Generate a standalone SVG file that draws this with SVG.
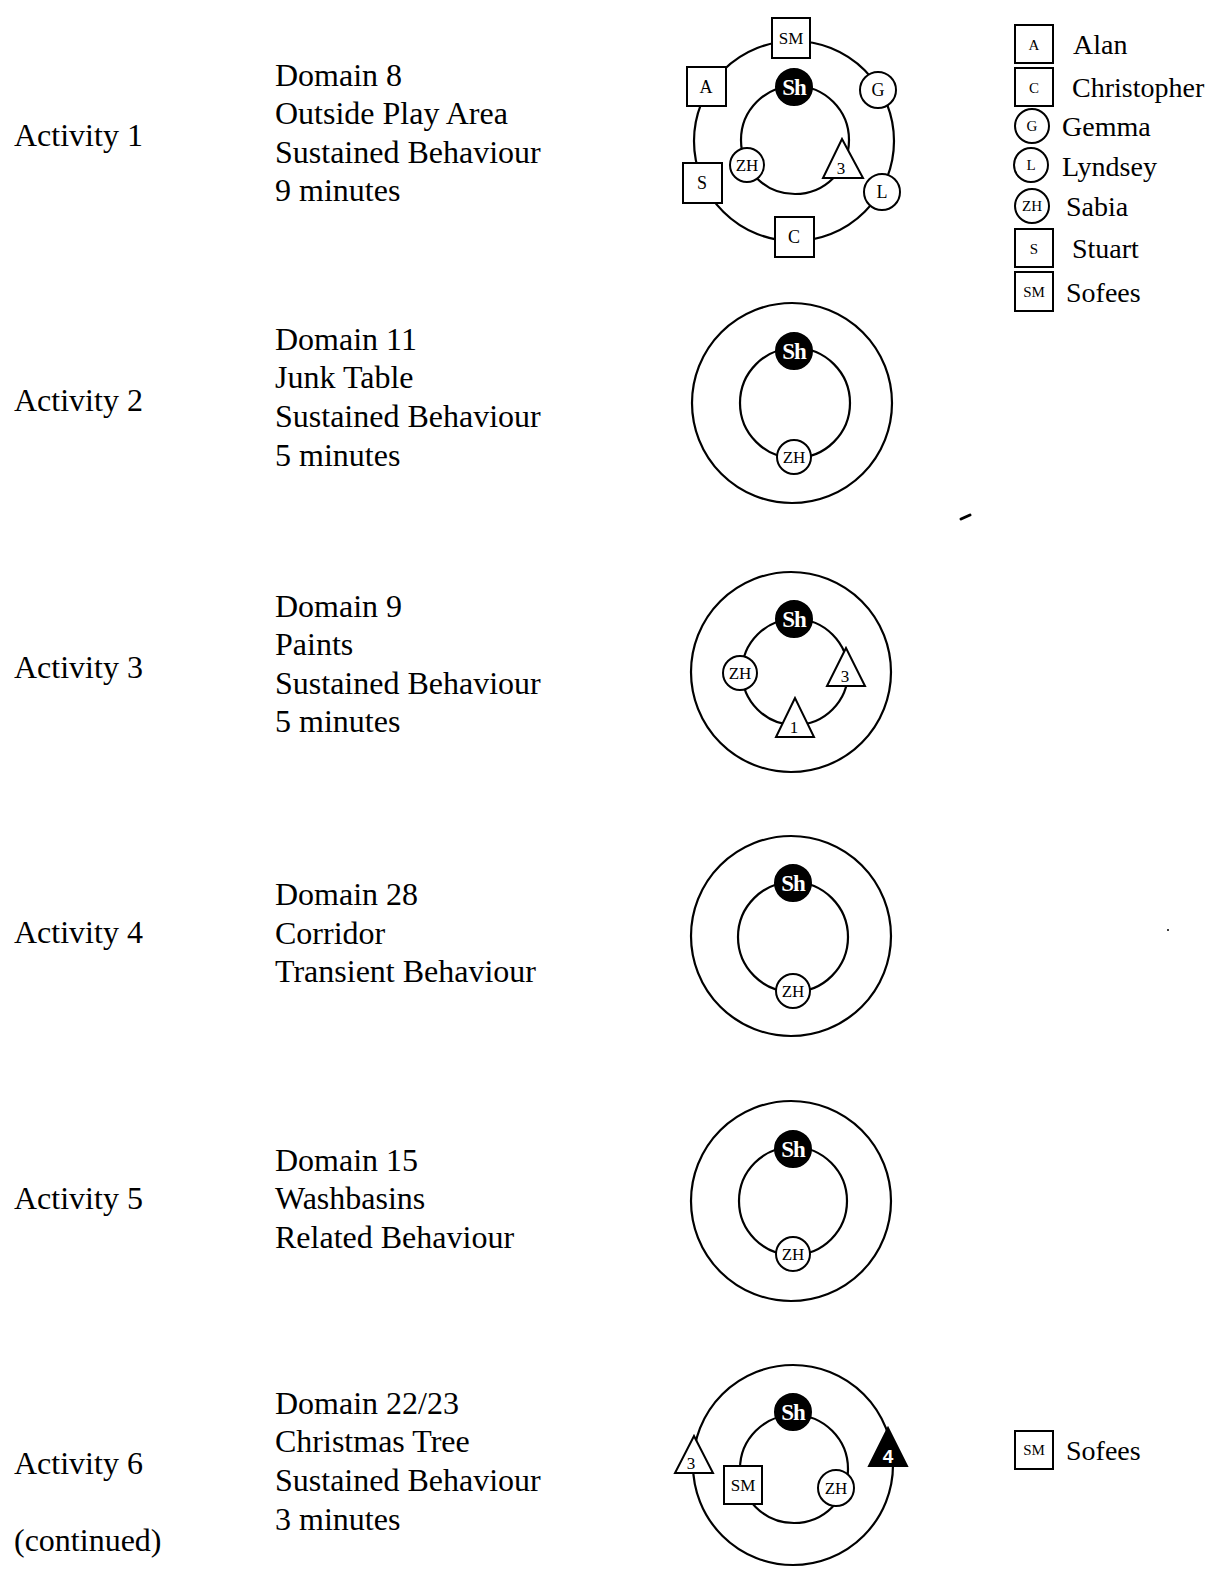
<svg xmlns="http://www.w3.org/2000/svg" width="1223" height="1573" viewBox="0 0 1223 1573">
<style>
.t{font-family:"Liberation Serif","Times New Roman",serif;font-size:32px;fill:#000}
.lg{font-family:"Liberation Serif","Times New Roman",serif;font-size:28px;fill:#000}
.ring{fill:none;stroke:#000;stroke-width:2.2}
.sh{fill:#fff;stroke:#000;stroke-width:2}
.blk{fill:#000;stroke:#000;stroke-width:2}
.lb{font-family:"Liberation Serif","Times New Roman",serif;font-size:17px;fill:#000;text-anchor:middle}
.dl{font-family:"Liberation Serif","Times New Roman",serif;font-size:18px;fill:#000;text-anchor:middle}
.sl{font-family:"Liberation Serif","Times New Roman",serif;font-size:15px;fill:#000;text-anchor:middle}
.wl{font-family:"Liberation Serif","Times New Roman",serif;font-size:23px;font-weight:bold;fill:#fff;text-anchor:middle;letter-spacing:-1px}
</style>
<rect width="1223" height="1573" fill="#fff"/>

<!-- Text column -->
<g id="text-activity1">
<text class="t" x="14" y="146">Activity 1</text>
<text class="t" x="275" y="86">Domain 8</text>
<text class="t" x="275" y="124">Outside Play Area</text>
<text class="t" x="275" y="163">Sustained Behaviour</text>
<text class="t" x="275" y="201">9 minutes</text>
</g>
<g id="text-activity2">
<text class="t" x="14" y="411">Activity 2</text>
<text class="t" x="275" y="350">Domain 11</text>
<text class="t" x="275" y="388">Junk Table</text>
<text class="t" x="275" y="427">Sustained Behaviour</text>
<text class="t" x="275" y="466">5 minutes</text>
</g>
<g id="text-activity3">
<text class="t" x="14" y="678">Activity 3</text>
<text class="t" x="275" y="617">Domain 9</text>
<text class="t" x="275" y="655">Paints</text>
<text class="t" x="275" y="694">Sustained Behaviour</text>
<text class="t" x="275" y="732">5 minutes</text>
</g>
<g id="text-activity4">
<text class="t" x="14" y="943">Activity 4</text>
<text class="t" x="275" y="905">Domain 28</text>
<text class="t" x="275" y="944">Corridor</text>
<text class="t" x="275" y="982">Transient Behaviour</text>
</g>
<g id="text-activity5">
<text class="t" x="14" y="1209">Activity 5</text>
<text class="t" x="275" y="1171">Domain 15</text>
<text class="t" x="275" y="1209">Washbasins</text>
<text class="t" x="275" y="1248">Related Behaviour</text>
</g>
<g id="text-activity6">
<text class="t" x="14" y="1474">Activity 6</text>
<text class="t" x="14" y="1551">(continued)</text>
<text class="t" x="275" y="1414">Domain 22/23</text>
<text class="t" x="275" y="1452">Christmas Tree</text>
<text class="t" x="275" y="1491">Sustained Behaviour</text>
<text class="t" x="275" y="1530">3 minutes</text>
</g>

<!-- Diagram 1 -->
<g id="diagram1">
<circle class="ring" cx="794" cy="141" r="100"/>
<circle class="ring" cx="795" cy="140" r="54"/>
<g id="d1-SM"><rect class="sh" x="772" y="18" width="38" height="40"/><text class="lb" x="791" y="44">SM</text></g>
<g id="d1-A"><rect class="sh" x="687" y="67" width="39" height="39"/><text class="dl" x="706" y="93">A</text></g>
<g id="d1-S"><rect class="sh" x="683" y="163" width="39" height="40"/><text class="dl" x="702" y="189">S</text></g>
<g id="d1-C"><rect class="sh" x="775" y="217" width="39" height="40"/><text class="dl" x="794" y="243">C</text></g>
<g id="d1-G"><circle class="sh" cx="878" cy="90" r="18"/><text class="dl" x="878" y="96">G</text></g>
<g id="d1-L"><circle class="sh" cx="882" cy="192" r="18"/><text class="dl" x="882" y="198">L</text></g>
<g id="d1-Sh"><circle class="blk" cx="794" cy="87" r="18"/><text class="wl" x="794" y="95">Sh</text></g>
<g id="d1-ZH"><circle class="sh" cx="747" cy="165" r="17"/><text class="lb" x="747" y="171">ZH</text></g>
<g id="d1-3"><polygon class="sh" points="842,139 823,178 863,178"/><text class="lb" x="841" y="174">3</text></g>
</g>

<!-- Legend -->
<g id="legend">
<g id="leg-A"><rect class="sh" x="1015" y="25" width="38" height="38"/><text class="sl" x="1034" y="50">A</text><text class="lg" x="1073" y="54">Alan</text></g>
<g id="leg-C"><rect class="sh" x="1015" y="68" width="38" height="38"/><text class="sl" x="1034" y="93">C</text><text class="lg" x="1072" y="97">Christopher</text></g>
<g id="leg-G"><circle class="sh" cx="1032" cy="126" r="17"/><text class="sl" x="1032" y="131">G</text><text class="lg" x="1062" y="136">Gemma</text></g>
<g id="leg-L"><circle class="sh" cx="1031" cy="165" r="17"/><text class="sl" x="1031" y="170">L</text><text class="lg" x="1062" y="176">Lyndsey</text></g>
<g id="leg-ZH"><circle class="sh" cx="1032" cy="206" r="17"/><text class="sl" x="1032" y="211">ZH</text><text class="lg" x="1066" y="216">Sabia</text></g>
<g id="leg-S"><rect class="sh" x="1015" y="229" width="38" height="38"/><text class="sl" x="1034" y="254">S</text><text class="lg" x="1072" y="258">Stuart</text></g>
<g id="leg-SM"><rect class="sh" x="1015" y="272" width="38" height="39"/><text class="sl" x="1034" y="297">SM</text><text class="lg" x="1066" y="302">Sofees</text></g>
</g>

<!-- Diagram 2 -->
<g id="diagram2">
<circle class="ring" cx="792" cy="403" r="100"/>
<circle class="ring" cx="795" cy="403" r="55"/>
<g id="d2-Sh"><circle class="blk" cx="794" cy="351" r="18"/><text class="wl" x="794" y="359">Sh</text></g>
<g id="d2-ZH"><circle class="sh" cx="794" cy="457" r="17"/><text class="lb" x="794" y="463">ZH</text></g>
</g>

<!-- Diagram 3 -->
<g id="diagram3">
<circle class="ring" cx="791" cy="672" r="100"/>
<circle class="ring" cx="795" cy="672" r="53"/>
<g id="d3-Sh"><circle class="blk" cx="794" cy="619" r="18"/><text class="wl" x="794" y="627">Sh</text></g>
<g id="d3-ZH"><circle class="sh" cx="740" cy="673" r="17"/><text class="lb" x="740" y="679">ZH</text></g>
<g id="d3-3"><polygon class="sh" points="846,648 827,686 865,686"/><text class="lb" x="845" y="682">3</text></g>
<g id="d3-1"><polygon class="sh" points="795,698 776,737 814,737"/><text class="lb" x="794" y="733">1</text></g>
</g>

<!-- Diagram 4 -->
<g id="diagram4">
<circle class="ring" cx="791" cy="936" r="100"/>
<circle class="ring" cx="793" cy="937" r="55"/>
<g id="d4-Sh"><circle class="blk" cx="793" cy="883" r="18"/><text class="wl" x="793" y="891">Sh</text></g>
<g id="d4-ZH"><circle class="sh" cx="793" cy="991" r="17"/><text class="lb" x="793" y="997">ZH</text></g>
</g>

<!-- Diagram 5 -->
<g id="diagram5">
<circle class="ring" cx="791" cy="1201" r="100"/>
<circle class="ring" cx="793" cy="1201" r="54"/>
<g id="d5-Sh"><circle class="blk" cx="793" cy="1149" r="18"/><text class="wl" x="793" y="1157">Sh</text></g>
<g id="d5-ZH"><circle class="sh" cx="793" cy="1254" r="17"/><text class="lb" x="793" y="1260">ZH</text></g>
</g>

<!-- Diagram 6 -->
<g id="diagram6">
<circle class="ring" cx="793" cy="1465" r="100"/>
<circle class="ring" cx="794" cy="1469" r="54"/>
<g id="d6-Sh"><circle class="blk" cx="793" cy="1412" r="18"/><text class="wl" x="793" y="1420">Sh</text></g>
<g id="d6-SM"><rect class="sh" x="724" y="1466" width="38" height="38"/><text class="lb" x="743" y="1491">SM</text></g>
<g id="d6-ZH"><circle class="sh" cx="836" cy="1488" r="18"/><text class="lb" x="836" y="1494">ZH</text></g>
<g id="d6-3"><polygon class="sh" points="694,1436 675,1473 713,1473"/><text class="lb" x="691" y="1469">3</text></g>
<g id="d6-4"><polygon class="blk" points="888,1428 869,1466 907,1466"/><text class="wl" x="888" y="1463" style="font-family:'Liberation Sans',Arial,sans-serif;font-size:19px;letter-spacing:0">4</text></g>
</g>

<g id="legend6">
<g id="leg6-SM"><rect class="sh" x="1015" y="1431" width="38" height="38"/><text class="sl" x="1034" y="1455">SM</text><text class="lg" x="1066" y="1460">Sofees</text></g>
</g>

<!-- scan marks -->
<path d="M961,519 L970,515" stroke="#000" stroke-width="3" stroke-linecap="round"/>
<circle cx="1168" cy="930" r="1" fill="#000"/>
</svg>
